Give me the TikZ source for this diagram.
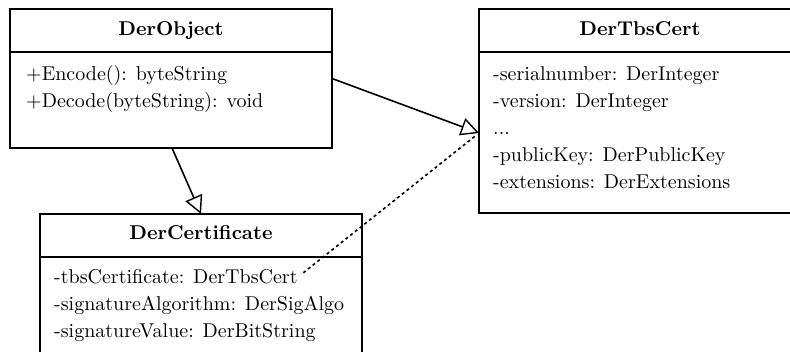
\documentclass[tikz,border=0pt]{standalone}
\usepackage{graphicx}
\usetikzlibrary{arrows.meta}
\newcommand{\bigtxt}[1]{\scalebox{2}{#1}}
\begin{document}
\begin{tikzpicture}[x=1pt,y=-1pt,
  umlbox/.style={draw, line width=1.6pt, inner sep=0pt, outer sep=0pt, rectangle, minimum width=322pt},
  divider/.style={line width=1.6pt},
  field/.style={anchor=base west, inner sep=0pt, font=\fontsize{10}{12}\selectfont},
  ctitle/.style={anchor=base, inner sep=0pt, font=\fontsize{10}{12}\selectfont\bfseries},
  gen/.style={line width=1.6pt, -{Triangle[open, length=18pt, width=18pt, line width=1.4pt]}},
  dep/.style={line width=1.6pt, dash pattern=on 3pt off 3pt}]
\clip (0,0) rectangle (790,352);
% boxes
\node[umlbox, minimum height=139pt] (obj) at (171,78.5) {};
\node[umlbox, minimum height=204pt] (tbs) at (640,111) {};
\node[umlbox, minimum height=175pt] (cert) at (201,301.5) {};
% dividers
\draw[divider] (obj.west |- 0,52) -- (obj.east |- 0,52);
\draw[divider] (tbs.west |- 0,52) -- (tbs.east |- 0,52);
\draw[divider] (cert.west |- 0,257) -- (cert.east |- 0,257);
% titles
\node[ctitle] (objt) at (171,36) {\bigtxt{DerObject}};
\node[ctitle] (tbst) at (640,36) {\bigtxt{DerTbsCert}};
\node[ctitle] (certt) at (201,240) {\bigtxt{DerCertificate}};
% DerObject fields
\node[field] (o1) at (26,81) {\bigtxt{$+$Encode(): byteString}};
\node[field] (o2) at (26,108) {\bigtxt{$+$Decode(byteString): void}};
% DerTbsCert fields
\node[field] (t1) at (493,81) {\bigtxt{-serialnumber: DerInteger}};
\node[field] (t2) at (493,108) {\bigtxt{-version: DerInteger}};
\node[field] (t3) at (493,135) {\bigtxt{...}};
\node[field] (t4) at (493,162) {\bigtxt{-publicKey: DerPublicKey}};
\node[field] (t5) at (493,189) {\bigtxt{-extensions: DerExtensions}};
% DerCertificate fields
\node[field] (c1) at (54,284) {\bigtxt{-tbsCertificate: DerTbsCert}};
\node[field] (c2) at (54,311) {\bigtxt{-signatureAlgorithm: DerSigAlgo}};
\node[field] (c3) at (54,338) {\bigtxt{-signatureValue: DerBitString}};
% connectors
\coordinate (tbsin) at (479,133);
\coordinate (objs) at (172,148);
\draw[gen] (obj.east) -- (tbsin);
\draw[gen] (objs) -- (cert.north);
\draw[dep, shorten <=7pt, shorten >=5pt] (c1.east) -- (tbsin);
\end{tikzpicture}
\end{document}
